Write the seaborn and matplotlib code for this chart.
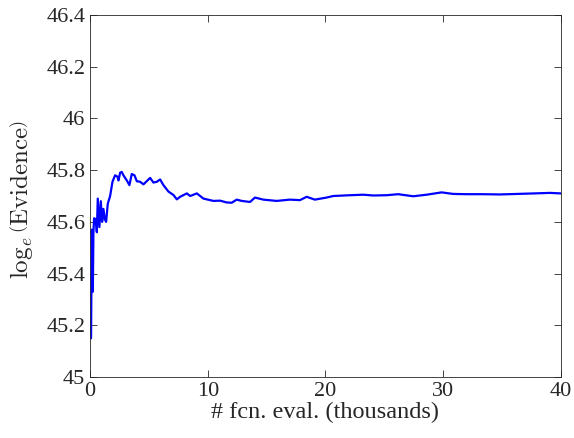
import numpy as np
import pandas as pd
import matplotlib
matplotlib.use("Agg")
import matplotlib.pyplot as plt
import seaborn as sns

# function evaluations (thousands) and log evidence
evals = [0.08, 0.14, 0.23, 0.28, 0.34, 0.48, 0.57, 0.65, 0.79, 0.91, 1.02, 1.13,
         1.25, 1.36, 1.50, 1.70, 1.90, 2.12, 2.32, 2.41, 2.55, 2.69, 2.83, 3.12,
         3.34, 3.54, 3.77, 3.97, 4.25, 4.53, 4.76, 5.10, 5.38, 5.67, 5.95, 6.23,
         6.66, 7.08, 7.37, 7.65, 8.22, 8.50, 9.07, 9.63, 10.20, 10.47, 11.05,
         11.61, 12.03, 12.46, 12.88, 13.59, 14.01, 14.72, 15.85, 16.98, 17.83,
         18.40, 19.10, 20.10, 20.66, 22.08, 23.20, 24.06, 25.19, 26.18, 27.46,
         28.60, 29.87, 30.86, 32.00, 33.40, 34.80, 36.30, 37.70, 39.10, 40.00]
log_ev = [45.15, 45.57, 45.33, 45.56, 45.614, 45.61, 45.56, 45.69, 45.58, 45.68,
          45.60, 45.65, 45.61, 45.60, 45.67, 45.70, 45.755, 45.78, 45.775, 45.76,
          45.79, 45.793, 45.78, 45.76, 45.742, 45.785, 45.78, 45.757, 45.755,
          45.745, 45.755, 45.77, 45.752, 45.755, 45.764, 45.742, 45.717, 45.704,
          45.687, 45.697, 45.71, 45.70, 45.71, 45.69, 45.684, 45.681, 45.682,
          45.675, 45.674, 45.686, 45.681, 45.677, 45.694, 45.686, 45.681, 45.686,
          45.684, 45.697, 45.686, 45.694, 45.70, 45.703, 45.705, 45.702, 45.703,
          45.707, 45.699, 45.705, 45.714, 45.708, 45.707, 45.707, 45.706, 45.708,
          45.71, 45.712, 45.71]

df = pd.DataFrame({"evals": evals, "log_ev": log_ev})

sns.set_style("ticks")
plt.rcParams["font.family"] = ["Liberation Serif", "DejaVu Serif"]
plt.rcParams["mathtext.fontset"] = "stix"

fig = plt.figure(figsize=(5.74, 4.38), dpi=100)
ax = fig.add_axes([0.157, 0.139, 0.820, 0.827])
sns.lineplot(data=df, x="evals", y="log_ev", ax=ax, color="#0000ff", linewidth=1.6)

ax.set_xlim(0, 40)
ax.set_ylim(45, 46.4)
ax.set_xticks([0, 10, 20, 30, 40])
ax.set_yticks([45, 45.2, 45.4, 45.6, 45.8, 46, 46.2, 46.4])
ax.set_yticklabels(["45", "45.2", "45.4", "45.6", "45.8", "46", "46.2", "46.4"])
ax.tick_params(direction="in", top=True, right=True, labelsize=16,
               length=5, width=0.6, colors="#262626")
for s in ax.spines.values():
    s.set_linewidth(0.6)
    s.set_color("#262626")
ax.set_xlabel("# fcn. eval. (thousands)", fontsize=17.5, labelpad=1)
ax.set_ylabel(r"$\log_e\left(\mathrm{Evidence}\right)$", fontsize=18,
              math_fontfamily="cm")
ax.yaxis.set_label_coords(-0.117, 0.49)

fig.savefig("out.png", dpi=100)
